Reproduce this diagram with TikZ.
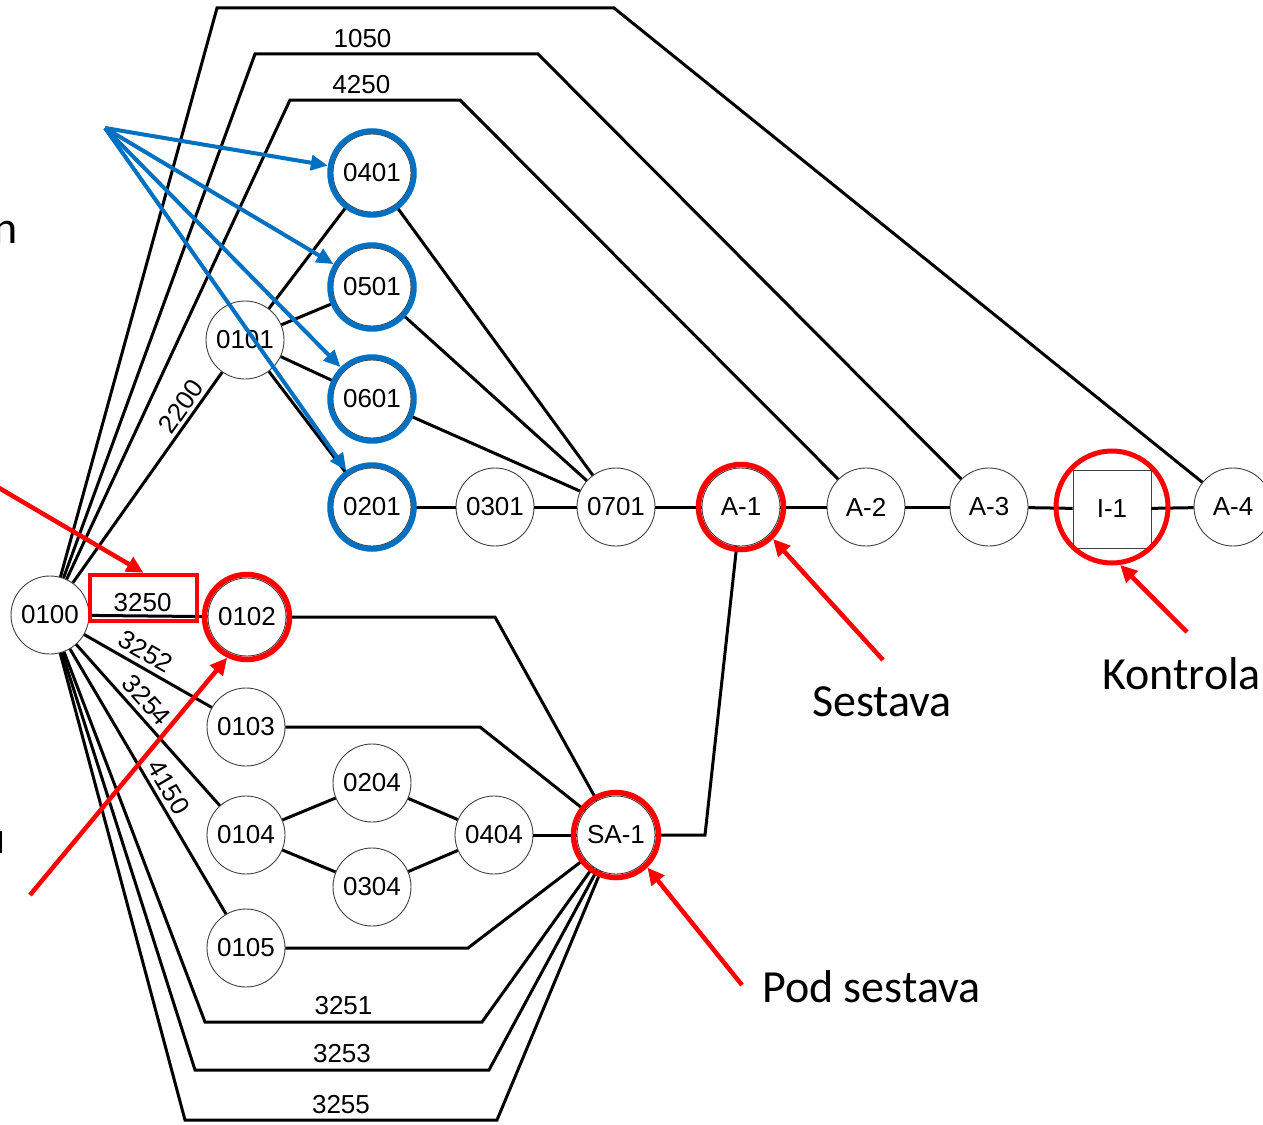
\documentclass[tikz,border=0pt]{standalone}
\usepackage{fontspec}
\setmainfont{Liberation Sans}
\newfontfamily\annfont{Carlito}
\usetikzlibrary{arrows.meta}
\definecolor{myblue}{RGB}{0,112,192}
\definecolor{myred}{RGB}{255,0,0}
\tikzset{
  part/.style={circle, draw=black!75, line width=0.9pt, fill=white, minimum size=78pt, inner sep=0pt, font=\fontsize{26}{28}\selectfont},
  insp/.style={rectangle, draw=black!75, line width=0.9pt, fill=white, minimum size=78pt, inner sep=0pt, font=\fontsize{26}{28}\selectfont},
  edge/.style={line width=3pt, draw=black},
  lbl/.style={font=\fontsize{26}{28}\selectfont, inner sep=2pt, text=black},
  bluering/.style={circle, draw=myblue, line width=5.5pt, minimum size=84pt, inner sep=0pt},
  redring/.style={circle, draw=myred, line width=5.5pt, minimum size=85pt, inner sep=0pt},
  bigredring/.style={circle, draw=myred, line width=5pt, minimum size=112pt, inner sep=0pt},
  redbox/.style={rectangle, draw=myred, line width=4.5pt, minimum width=107pt, minimum height=46pt, inner sep=0pt},
  bluearrow/.style={draw=myblue, line width=4pt, -{Triangle[length=17pt,width=15pt]}},
  redarrow/.style={draw=myred, line width=4.5pt, -{Triangle[length=17pt,width=16pt]}},
  ann/.style={font=\annfont\fontsize{46}{50}\selectfont, inner sep=0pt},
}
\begin{document}
\begin{tikzpicture}[x=1pt,y=-1pt]
\useasboundingbox (0,0) rectangle (1263,1124);
\fill[white] (0,0) rectangle (1263,1124);

% nodes
\node[part] (n0100) at (50,615) {0100};
\node[part] (n0101) at (245,340) {0101};
\node[part] (n0401) at (372,173) {0401};
\node[part] (n0501) at (372,287) {0501};
\node[part] (n0601) at (372,399) {0601};
\node[part] (n0201) at (372,507) {0201};
\node[part] (n0301) at (495,507) {0301};
\node[part] (n0701) at (616,507) {0701};
\node[part] (nA1) at (741,507) {A-1};
\node[part] (nA2) at (866,507) {A-2};
\node[part] (nA3) at (989,507) {A-3};
\node[insp] (nI1) at (1112,509) {I-1};
\node[part] (nA4) at (1233,507) {A-4};
\node[part] (n0102) at (247,617) {0102};
\node[part] (n0103) at (246,727) {0103};
\node[part] (n0104) at (246,835) {0104};
\node[part] (n0204) at (372,783) {0204};
\node[part] (n0304) at (372,887) {0304};
\node[part] (n0404) at (494,835) {0404};
\node[part] (nSA1) at (616,835) {SA-1};
\node[part] (n0105) at (246,948) {0105};

% long edges from 0100 to the main line
\draw[edge] (n0100) -- (217,8) -- (614,8) -- (nA4);
\draw[edge] (n0100) -- (255,54) -- node[lbl,above=3pt,pos=0.38]{1050} (538,54) -- (nA3);
\draw[edge] (n0100) -- (290,100) -- node[lbl,above=3pt,pos=0.42]{4250} (460,100) -- (nA2);

% edges from 0100
\draw[edge] (n0100) -- node[lbl,above=1pt,sloped,pos=0.80]{2200} (n0101);
\draw[edge] (n0100) -- node[lbl,above=1pt,pos=0.45]{3250} (n0102);
\draw[edge] (n0100) -- node[lbl,above=3pt,sloped,pos=0.42]{3252} (n0103);
\draw[edge] (n0100) -- node[lbl,above=3pt,sloped,pos=0.41]{3254} (n0104);
\draw[edge] (n0100) -- node[lbl,above=2pt,sloped,pos=0.55]{4150} (n0105);
\draw[edge] (n0100) -- (205,1022) -- node[lbl,above=4pt,pos=0.5]{3251} (482,1022) -- (nSA1);
\draw[edge] (n0100) -- (195,1070) -- node[lbl,above=4pt,pos=0.5]{3253} (489,1070) -- (nSA1);
\draw[edge] (n0100) -- (185,1120) -- node[lbl,above=3pt,pos=0.5]{3255} (497,1120) -- (nSA1);

% upper group
\draw[edge] (n0101) -- (n0401);
\draw[edge] (n0101) -- (n0501);
\draw[edge] (n0101) -- (n0601);
\draw[edge] (n0101) -- (n0201);
\draw[edge] (n0401) -- (n0701);
\draw[edge] (n0501) -- (n0701);
\draw[edge] (n0601) -- (n0701);
\draw[edge] (n0201) -- (n0301);
\draw[edge] (n0301) -- (n0701);
\draw[edge] (n0701) -- (nA1);
\draw[edge] (nA1) -- (nA2);
\draw[edge] (nA2) -- (nA3);
\draw[edge] (nA3) -- (nI1);
\draw[edge] (nI1) -- (nA4);

% lower group
\draw[edge] (n0102) -- (495,617) -- (nSA1);
\draw[edge] (n0103) -- (480,727) -- (nSA1);
\draw[edge] (n0104) -- (n0204);
\draw[edge] (n0104) -- (n0304);
\draw[edge] (n0204) -- (n0404);
\draw[edge] (n0304) -- (n0404);
\draw[edge] (n0404) -- (nSA1);
\draw[edge] (n0105) -- (468,948) -- (nSA1);
\draw[edge] (nSA1) -- (705,835) -- (nA1);

% highlight rings
\node[bluering] (r0401) at (n0401) {};
\node[bluering] (r0501) at (n0501) {};
\node[bluering] (r0601) at (n0601) {};
\node[bluering] (r0201) at (n0201) {};
\node[redring] (r0102) at (n0102) {};
\node[redring] (rA1) at (nA1) {};
\node[redring] (rSA1) at (nSA1) {};
\node[bigredring] (rI1) at (1112,507) {};
\node[redbox] (box3250) at (143.5,598) {};

% annotations
\node[ann, anchor=base east] (tn) at (18,243) {n};
\node[ann, anchor=base east] (tu) at (6,853) {u};
\node[ann, anchor=base] (tsest) at (882,716) {Sestava};
\node[ann, anchor=base west] (tkon) at (1102,689) {Kontrola};
\node[ann, anchor=base west] (tpod) at (762,1002) {Pod sestava};

% blue arrows
\coordinate (bsrc) at (105,128);
\draw[bluearrow] (bsrc) -- (r0401);
\draw[bluearrow] (bsrc) -- (r0501);
\draw[bluearrow] (bsrc) -- (r0601);
\draw[bluearrow] (bsrc) -- (r0201);

% red arrows
\coordinate (rs1) at (-6,485);
\coordinate (rs2) at (30,895);
\coordinate (rs3) at (883,660);
\coordinate (rs4) at (1187,632);
\coordinate (rs5) at (742,985);
\draw[redarrow] (rs1) -- (box3250.north);
\draw[redarrow] (rs2) -- (r0102.-116);
\draw[redarrow] (rs3) -- (rA1.-45);
\draw[redarrow] (rs4) -- (rI1.-82);
\draw[redarrow] (rs5) -- (rSA1.-46);
\end{tikzpicture}
\end{document}
